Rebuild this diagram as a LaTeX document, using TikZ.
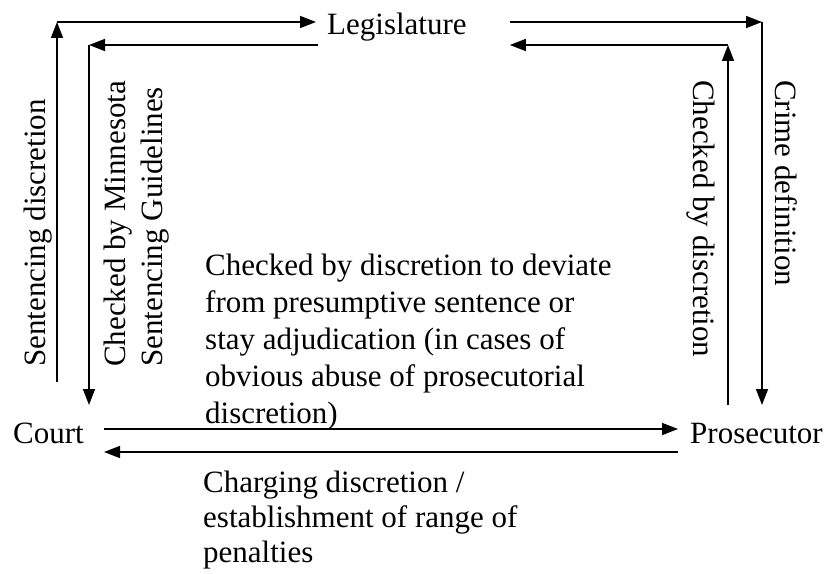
\documentclass[tikz,border=0pt]{standalone}
\usepackage{fontspec}
\setmainfont{Liberation Serif}
\usetikzlibrary{arrows.meta, positioning}

\begin{document}
\begin{tikzpicture}[
    x=1bp, y=-1bp,
    actor/.style={inner sep=0pt, anchor=base west,
        font=\fontsize{31bp}{37bp}\selectfont},
    lbl/.style={inner sep=0pt, anchor=base west, align=left,
        font=\fontsize{31bp}{37bp}\selectfont},
    arrow/.style={-{Triangle[length=16bp, width=12bp]}, line width=1.6bp},
]
\useasboundingbox (0,0) rectangle (828,574);

\node[actor] (leg)   at (327,35)  {Legislature};
\node[actor] (court) at (13,443)  {Court};
\node[actor] (pros)  at (690,443) {Prosecutor};

% corners of the outer and inner loops
\coordinate (tlo) at (57,22);
\coordinate (tli) at (89,45);
\coordinate (tro) at (762,22);
\coordinate (tri) at (728,45);

% court <-> legislature
\draw[arrow] (57,382) -- (tlo);
\draw[arrow] (tlo) -- ([xshift=-11bp]leg.west |- tlo);
\draw[arrow] ([xshift=-9bp]leg.west |- tli) -- (tli);
\draw[arrow] (tli) -- (89,405);

% legislature <-> prosecutor
\draw[arrow] ([xshift=43bp]leg.east |- tro) -- (tro);
\draw[arrow] (tro) -- (762,405);
\draw[arrow] (728,405) -- (tri);
\draw[arrow] (tri) -- ([xshift=43bp]leg.east |- tri);

% court <-> prosecutor
\draw[arrow] ([xshift=20bp]court.east |- 0,429) -- ([xshift=-12bp]pros.west |- 0,429);
\draw[arrow] ([xshift=-12bp]pros.west |- 0,452) -- ([xshift=20bp]court.east |- 0,452);

\node[lbl, rotate=90] (sentdisc) at (45,367) {Sentencing discretion};
\node[lbl, rotate=90] (mnguide)  at (162,367) {Checked by Minnesota\\Sentencing Guidelines};
\node[lbl, rotate=-90] (crimedef) at (775,80) {Crime definition};
\node[lbl, rotate=-90] (prosdisc) at (693,80) {Checked by discretion};

\node[lbl] (deviate) at (205,423) {Checked by discretion to deviate\\from presumptive sentence or\\stay adjudication (in cases of\\obvious abuse of prosecutorial\\discretion)};
\node[lbl, font=\fontsize{31bp}{35bp}\selectfont] (charging) at (203,562) {Charging discretion /\\establishment of range of\\penalties};

\end{tikzpicture}
\end{document}
